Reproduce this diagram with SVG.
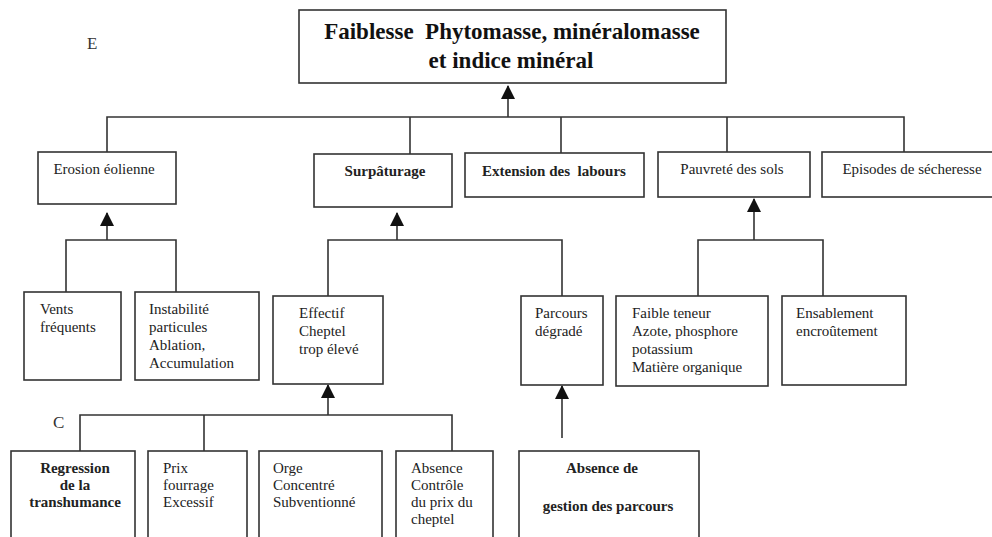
<svg xmlns="http://www.w3.org/2000/svg" width="992" height="537" viewBox="0 0 992 537">
<defs>
<marker id="ah" markerUnits="userSpaceOnUse" markerWidth="14" markerHeight="14" viewBox="0 0 14 14" refX="13" refY="7" orient="auto">
<polygon points="14,7 0,0 0,14" fill="#111"/>
</marker>
</defs>
<style>
.box{fill:#fff;stroke:#333;stroke-width:1.6}
.ln{fill:none;stroke:#333;stroke-width:1.6}
text{font-family:'Liberation Serif','Times New Roman',Times,'DejaVu Serif',serif}
.t{font-size:15px;fill:#222}
.b{font-weight:bold}
.c{text-anchor:middle}
.pre{white-space:pre}
.title{font-size:23px;font-weight:bold;fill:#111;text-anchor:middle}
.lab{font-size:17px;fill:#333}
</style>
<rect width="992" height="537" fill="#fff"/>
<text class="lab" x="87" y="49">E</text>
<text class="lab" x="53" y="428">C</text>

<g id="connectors">
<line class="ln" x1="508" y1="117" x2="508" y2="86" marker-end="url(#ah)"/>
<polyline class="ln" points="107,152 107,117 904,117 904,152"/>
<line class="ln" x1="410" y1="117" x2="410" y2="154"/>
<line class="ln" x1="561" y1="117" x2="561" y2="153"/>
<line class="ln" x1="727" y1="117" x2="727" y2="152"/>
<line class="ln" x1="107" y1="240" x2="107" y2="213" marker-end="url(#ah)"/>
<polyline class="ln" points="66,292 66,240 176,240 176,292"/>
<line class="ln" x1="397" y1="240" x2="397" y2="213" marker-end="url(#ah)"/>
<polyline class="ln" points="328,296 328,240 562,240 562,296"/>
<line class="ln" x1="754" y1="240" x2="754" y2="199" marker-end="url(#ah)"/>
<polyline class="ln" points="698,296 698,240 823,240 823,296"/>
<line class="ln" x1="328" y1="415" x2="328" y2="385" marker-end="url(#ah)"/>
<polyline class="ln" points="80,451 80,415 452,415 452,451"/>
<line class="ln" x1="204" y1="415" x2="204" y2="451"/>
<line class="ln" x1="562" y1="438" x2="562" y2="386" marker-end="url(#ah)"/>
</g>

<g id="n-top">
<rect class="box" x="299" y="10" width="427" height="73"/>
<text class="title pre" x="512" y="39">Faiblesse  Phytomasse, minéralomasse</text>
<text class="title" x="511" y="68">et indice minéral</text>
</g>

<g id="n-erosion">
<rect class="box" x="38" y="152" width="138" height="52"/>
<text class="t c" x="104" y="174">Erosion éolienne</text>
</g>
<g id="n-surpaturage">
<rect class="box" x="314" y="154" width="138" height="53"/>
<text class="t b c" x="385" y="176">Surpâturage</text>
</g>
<g id="n-extension">
<rect class="box" x="465" y="153" width="179" height="44"/>
<text class="t b c pre" x="554" y="176">Extension des  labours</text>
</g>
<g id="n-pauvrete">
<rect class="box" x="658" y="152" width="152" height="45"/>
<text class="t c" x="732" y="174">Pauvreté des sols</text>
</g>
<g id="n-episodes">
<rect class="box" x="822" y="152" width="180" height="45"/>
<text class="t c" x="912" y="174">Episodes de sécheresse</text>
</g>

<g id="n-vents">
<rect class="box" x="24" y="292" width="97" height="88"/>
<text class="t" x="40" y="314">Vents</text>
<text class="t" x="40" y="332">fréquents</text>
</g>
<g id="n-instabilite">
<rect class="box" x="135" y="292" width="124" height="88"/>
<text class="t" x="149" y="314">Instabilité</text>
<text class="t" x="149" y="332">particules</text>
<text class="t" x="149" y="350">Ablation,</text>
<text class="t" x="149" y="368">Accumulation</text>
</g>
<g id="n-effectif">
<rect class="box" x="273" y="296" width="110" height="88"/>
<text class="t" x="299" y="318">Effectif</text>
<text class="t" x="299" y="336">Cheptel</text>
<text class="t" x="299" y="354">trop élevé</text>
</g>
<g id="n-parcours">
<rect class="box" x="521" y="296" width="82" height="89"/>
<text class="t" x="535" y="318">Parcours</text>
<text class="t" x="535" y="336">dégradé</text>
</g>
<g id="n-faible">
<rect class="box" x="616" y="296" width="152" height="90"/>
<text class="t" x="632" y="318">Faible teneur</text>
<text class="t" x="632" y="336">Azote, phosphore</text>
<text class="t" x="632" y="354">potassium</text>
<text class="t" x="632" y="372">Matière organique</text>
</g>
<g id="n-ensablement">
<rect class="box" x="782" y="296" width="124" height="89"/>
<text class="t" x="796" y="318">Ensablement</text>
<text class="t" x="796" y="336">encroûtement</text>
</g>

<g id="n-regression">
<rect class="box" x="11" y="451" width="124" height="100"/>
<text class="t b c" x="75" y="473">Regression</text>
<text class="t b c" x="75" y="490">de la</text>
<text class="t b c" x="75" y="507">transhumance</text>
</g>
<g id="n-prix">
<rect class="box" x="148" y="451" width="99" height="100"/>
<text class="t" x="163" y="473">Prix</text>
<text class="t" x="163" y="490">fourrage</text>
<text class="t" x="163" y="507">Excessif</text>
</g>
<g id="n-orge">
<rect class="box" x="259" y="451" width="123" height="100"/>
<text class="t" x="273" y="473">Orge</text>
<text class="t" x="273" y="490">Concentré</text>
<text class="t" x="273" y="507">Subventionné</text>
</g>
<g id="n-absence-controle">
<rect class="box" x="396" y="451" width="97" height="100"/>
<text class="t" x="411" y="473">Absence</text>
<text class="t" x="411" y="490">Contrôle</text>
<text class="t" x="411" y="507">du prix du</text>
<text class="t" x="411" y="524">cheptel</text>
</g>
<g id="n-absence-gestion">
<rect class="box" x="519" y="451" width="180" height="100"/>
<text class="t b c" x="602" y="473">Absence de</text>
<text class="t b c" x="608" y="511">gestion des parcours</text>
</g>
</svg>
